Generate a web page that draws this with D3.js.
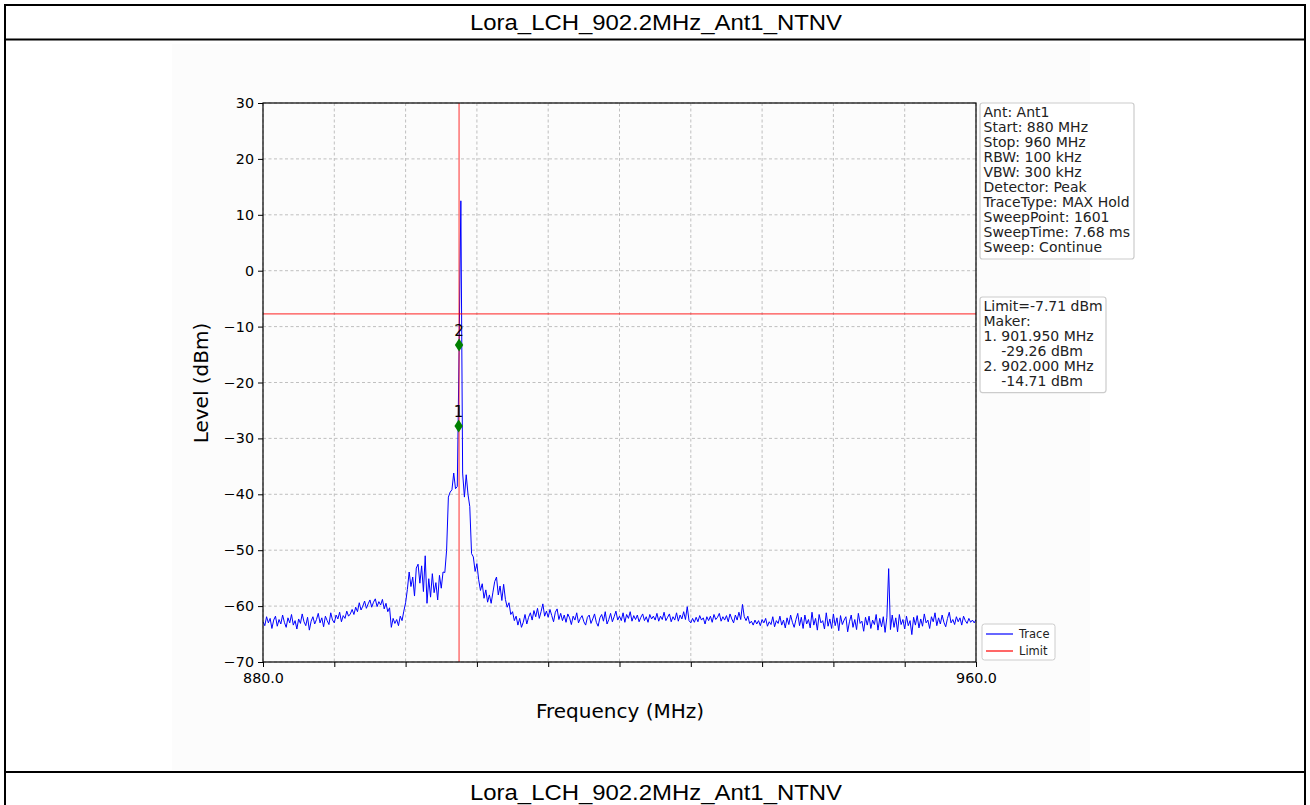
<!DOCTYPE html>
<html>
<head>
<meta charset="utf-8">
<script src="https://cdn.jsdelivr.net/npm/d3@7"></script>
<style>
  html, body { margin: 0; padding: 0; background: #ffffff; }
  svg { display: block; }
</style>
</head>
<body>
<svg id="chart" width="1310" height="805"></svg>
<script>
// ---------------- DATA ----------------
const chartTitle = "Lora_LCH_902.2MHz_Ant1_NTNV";
const sweepStart = 880;   // MHz
const sweepStop = 960;    // MHz
const sweepStep = 0.2;    // MHz between the trace values below

// Trace level (dBm), one value every 0.2 MHz from 880.0 to 960.0
const traceLevels = [
  -62.8,-63.5,-61.9,-63.0,-62.2,-64.0,-62.5,-61.8,-63.6,-62.4,
  -63.2,-61.6,-62.9,-63.8,-62.1,-63.0,-61.5,-63.4,-62.6,-64.1,
  -62.3,-63.1,-61.4,-62.8,-63.5,-62.0,-64.3,-62.7,-61.9,-63.2,
  -62.4,-61.3,-63.0,-62.1,-63.7,-61.8,-62.6,-63.3,-61.2,-62.5,
  -63.0,-61.6,-62.3,-61.1,-62.8,-61.7,-62.2,-60.9,-61.8,-61.4,
  -60.6,-61.5,-60.2,-61.0,-59.4,-60.7,-60.0,-59.1,-60.4,-59.6,
  -58.9,-60.2,-59.3,-58.7,-60.1,-59.2,-59.8,-58.8,-60.5,-59.5,
  -61.0,-60.3,-63.8,-62.2,-63.1,-62.4,-63.5,-61.8,-62.6,-60.9,
  -59.4,-57.0,-53.9,-56.5,-54.8,-58.2,-53.2,-52.5,-55.9,-52.8,
  -57.4,-51.0,-59.5,-55.1,-58.4,-54.2,-57.6,-55.8,-58.9,-54.5,
  -56.8,-53.9,-54.0,-50.0,-40.5,-39.6,-39.2,-36.2,-39.0,-38.6,
  -14.7, 12.5,-36.2,-40.5,-36.5,-40.0,-42.2,-50.6,-51.2,-53.8,
  -52.4,-55.3,-57.2,-56.0,-58.6,-57.1,-59.3,-58.0,-59.5,-57.5,
  -55.6,-54.8,-58.0,-56.4,-59.0,-56.1,-58.8,-60.2,-59.4,-61.5,
  -61.0,-62.6,-61.8,-63.4,-62.2,-63.8,-62.9,-61.5,-63.2,-62.0,
  -61.2,-62.5,-60.8,-61.9,-60.4,-62.2,-61.0,-59.6,-61.8,-60.9,
  -62.0,-60.6,-61.7,-62.8,-61.1,-60.5,-62.4,-61.3,-62.6,-61.6,
  -62.9,-61.4,-62.1,-63.3,-61.8,-62.5,-61.2,-63.0,-62.2,-61.7,
  -62.8,-63.4,-62.0,-61.6,-63.1,-62.3,-61.4,-62.9,-63.6,-62.1,
  -61.5,-62.7,-61.0,-63.2,-62.4,-61.3,-62.8,-61.9,-60.9,-62.5,
  -61.8,-62.6,-61.2,-62.9,-61.5,-62.2,-61.0,-62.7,-61.7,-62.4,
  -61.6,-62.8,-62.0,-61.4,-62.6,-61.9,-62.9,-61.5,-62.3,-61.8,
  -62.5,-61.3,-62.7,-61.8,-62.4,-61.1,-62.6,-62.0,-61.4,-62.8,
  -61.9,-62.5,-61.2,-62.7,-61.6,-62.3,-61.0,-62.4,-60.1,-62.6,
  -63.0,-62.2,-62.9,-62.0,-62.8,-61.7,-62.5,-62.1,-63.2,-61.9,
  -62.6,-61.8,-62.9,-61.5,-62.4,-62.0,-61.3,-62.7,-61.9,-62.5,
  -61.7,-62.8,-61.4,-62.3,-63.0,-61.6,-62.5,-61.1,-62.4,-59.7,
  -61.9,-62.6,-61.8,-63.1,-62.7,-63.4,-62.5,-63.2,-62.6,-63.5,
  -62.4,-63.0,-62.2,-63.6,-62.8,-63.3,-61.9,-63.7,-62.6,-63.1,
  -61.8,-63.4,-62.5,-63.9,-62.1,-63.3,-61.6,-62.9,-63.8,-62.4,
  -61.3,-63.5,-62.0,-64.0,-61.6,-63.2,-62.4,-63.9,-61.1,-63.4,
  -62.2,-64.3,-61.5,-63.0,-62.6,-64.1,-61.2,-63.6,-62.3,-64.0,
  -61.4,-63.5,-62.1,-64.4,-61.7,-63.3,-62.5,-61.9,-64.6,-62.8,
  -61.6,-63.8,-62.4,-64.2,-61.3,-63.1,-62.7,-64.5,-62.0,-63.4,
  -61.8,-64.0,-62.5,-63.3,-61.5,-64.3,-62.2,-63.7,-61.9,-64.7,
  -62.0,-53.3,-64.2,-61.6,-63.8,-62.1,-64.6,-61.5,-63.3,-62.4,
  -64.1,-61.8,-63.5,-62.6,-65.1,-62.0,-63.4,-61.7,-63.9,-62.3,
  -63.6,-61.4,-63.0,-62.5,-64.0,-61.9,-62.8,-61.2,-63.5,-62.1,
  -63.2,-61.6,-62.9,-63.7,-62.2,-61.1,-63.0,-62.4,-63.3,-61.9,
  -62.8,-62.1,-63.4,-61.8,-62.6,-63.1,-62.2,-62.9,-62.5,-63.0,
  -62.4
];

const limitLevel = -7.71;          // dBm
const limitFreq = 902.0;           // MHz (vertical marker line)
const markerNames = ["1", "2"];
const markerFreqs = [901.95, 902.0];
const markerPlotLevels = [-27.8, -13.3];   // where the diamonds sit on the plot
const yTicks = [-70, -60, -50, -40, -30, -20, -10, 0, 10, 20, 30];
const xTicks = [880, 888, 896, 904, 912, 920, 928, 936, 944, 952, 960];
const xTickLabels = ["880.0", "", "", "", "", "", "", "", "", "", "960.0"];
const infoLines = ["Ant: Ant1", "Start: 880 MHz", "Stop: 960 MHz", "RBW: 100 kHz",
  "VBW: 300 kHz", "Detector: Peak", "TraceType: MAX Hold", "SweepPoint: 1601",
  "SweepTime: 7.68 ms", "Sweep: Continue"];
const limitLines = ["Limit=-7.71 dBm", "Maker:", "1. 901.950 MHz", "    -29.26 dBm",
  "2. 902.000 MHz", "    -14.71 dBm"];
const legendNames = ["Trace", "Limit"];
const legendColors = ["#0000ff", "#ff0000"];

// ---------------- DRAW ----------------
const svg = d3.select("#chart");
const W = 1310, H = 805;
const tickFont = "'DejaVu Sans', sans-serif";

// page frame (table-like)
svg.append("rect").attr("x", 0).attr("y", 0).attr("width", W).attr("height", H).attr("fill", "#fff");
svg.append("rect").attr("x", 172).attr("y", 44).attr("width", 918).attr("height", 726).attr("fill", "#fcfcfc");

const frame = svg.append("g").attr("stroke", "#000").attr("stroke-width", 2).attr("fill", "none");
frame.append("rect").attr("x", 5).attr("y", 5).attr("width", W - 10).attr("height", H + 20);
frame.append("line").attr("x1", 5).attr("x2", W - 5).attr("y1", 39.5).attr("y2", 39.5);
frame.append("line").attr("x1", 5).attr("x2", W - 5).attr("y1", 772).attr("y2", 772);

svg.append("text").attr("x", 656).attr("y", 30).attr("text-anchor", "middle")
  .attr("font-family", "'Liberation Sans', Arial, sans-serif").attr("font-size", 22)
  .attr("textLength", 372).attr("lengthAdjust", "spacingAndGlyphs")
  .text(chartTitle);
svg.append("text").attr("x", 656).attr("y", 800).attr("text-anchor", "middle")
  .attr("font-family", "'Liberation Sans', Arial, sans-serif").attr("font-size", 22)
  .attr("textLength", 372).attr("lengthAdjust", "spacingAndGlyphs")
  .text(chartTitle);

// scales
const x = d3.scaleLinear().domain([sweepStart, sweepStop]).range([263, 976]);
const y = d3.scaleLinear().domain([-70, 30]).range([662, 103]);

// grid
const grid = svg.append("g").attr("stroke", "#b0b0b0").attr("stroke-width", 0.8)
  .attr("stroke-dasharray", "3,2.5");
grid.selectAll("line.gx").data(xTicks).join("line")
  .attr("x1", d => x(d)).attr("x2", d => x(d)).attr("y1", 103).attr("y2", 662);
grid.selectAll("line.gy").data(yTicks).join("line")
  .attr("x1", 263).attr("x2", 976).attr("y1", d => y(d)).attr("y2", d => y(d));

// axes
const xAxis = d3.axisBottom(x).tickValues(xTicks)
  .tickFormat((d, i) => xTickLabels[i]).tickSize(5).tickPadding(6);
const yAxis = d3.axisLeft(y).tickValues(yTicks)
  .tickFormat(d => (d < 0 ? "\u2212" + Math.abs(d) : String(d))).tickSize(5).tickPadding(4);

const gx = svg.append("g").attr("transform", "translate(0,662)").call(xAxis);
const gy = svg.append("g").attr("transform", "translate(263,0)").call(yAxis);
[gx, gy].forEach(g => {
  g.select(".domain").remove();
  g.selectAll(".tick line").attr("stroke", "#000").attr("stroke-width", 1);
  g.selectAll(".tick text").attr("font-family", tickFont).attr("font-size", 14.3).attr("fill", "#000");
});

// trace
const traceData = traceLevels.map((v, i) => [sweepStart + i * sweepStep, v]);
svg.append("clipPath").attr("id", "plotclip")
  .append("rect").attr("x", 263).attr("y", 103).attr("width", 713).attr("height", 559);
svg.append("path").datum(traceData)
  .attr("clip-path", "url(#plotclip)")
  .attr("fill", "none").attr("stroke", "#0000ff").attr("stroke-width", 1)
  .attr("stroke-linejoin", "round")
  .attr("d", d3.line().x(d => x(d[0])).y(d => y(d[1])));

// limit lines
svg.append("line").attr("x1", 263).attr("x2", 976)
  .attr("y1", y(limitLevel)).attr("y2", y(limitLevel))
  .attr("stroke", "#ff0000").attr("stroke-opacity", 0.7).attr("stroke-width", 1.2);
svg.append("line").attr("x1", x(limitFreq)).attr("x2", x(limitFreq))
  .attr("y1", 103).attr("y2", 662)
  .attr("stroke", "#ff0000").attr("stroke-opacity", 0.55).attr("stroke-width", 1.5);

// markers
const markers = markerNames.map((n, i) => ({ n, f: markerFreqs[i], v: markerPlotLevels[i] }));
const mg = svg.append("g");
mg.selectAll("path").data(markers).join("path")
  .attr("transform", d => `translate(${x(d.f)},${y(d.v)})`)
  .attr("d", "M0,-6.5L4.2,0L0,6.5L-4.2,0Z")
  .attr("fill", "#008000");
mg.selectAll("text").data(markers).join("text")
  .attr("x", d => x(d.f)).attr("y", d => y(d.v) - 9)
  .attr("text-anchor", "middle").attr("font-family", tickFont).attr("font-size", 15)
  .attr("fill", "#000").text(d => d.n);

// spines
svg.append("rect").attr("x", 263).attr("y", 103).attr("width", 713).attr("height", 559)
  .attr("fill", "none").attr("stroke", "#000").attr("stroke-width", 1.2);

// axis labels
svg.append("text").attr("x", 620).attr("y", 718).attr("text-anchor", "middle")
  .attr("font-family", tickFont).attr("font-size", 20).text("Frequency (MHz)");
svg.append("text").attr("transform", "translate(208,383) rotate(-90)")
  .attr("text-anchor", "middle").attr("font-family", tickFont).attr("font-size", 20)
  .text("Level (dBm)");

// info boxes
function infoBox(lines, bx, by, bw, lineH, fs) {
  const g = svg.append("g");
  g.append("rect").attr("x", bx).attr("y", by).attr("width", bw)
    .attr("height", lines.length * lineH + 5).attr("rx", 2.5)
    .attr("fill", "#fff").attr("fill-opacity", 0.85).attr("stroke", "#cccccc").attr("stroke-width", 1.2);
  g.selectAll("text").data(lines).join("text")
    .attr("x", bx + 3.5).attr("y", (d, i) => by + 13.5 + i * lineH)
    .attr("font-family", tickFont).attr("font-size", fs).attr("fill", "#222")
    .attr("xml:space", "preserve").style("white-space", "pre")
    .text(d => d);
}
infoBox(infoLines, 980, 103, 154, 15.1, 14);
infoBox(limitLines, 980, 297, 126, 15.1, 14);

// legend
const lg = svg.append("g");
lg.append("rect").attr("x", 982).attr("y", 624).attr("width", 73).attr("height", 36).attr("rx", 2.5)
  .attr("fill", "#fff").attr("stroke", "#cccccc").attr("stroke-width", 1);
legendNames.forEach((n, i) => {
  const ly = 634 + i * 17;
  lg.append("line").attr("x1", 986).attr("x2", 1013).attr("y1", ly).attr("y2", ly)
    .attr("stroke", legendColors[i]).attr("stroke-width", 1.2);
  lg.append("text").attr("x", 1019).attr("y", ly + 4).attr("font-family", tickFont)
    .attr("font-size", 11.5).attr("fill", "#222").text(n);
});
</script>
</body>
</html>
